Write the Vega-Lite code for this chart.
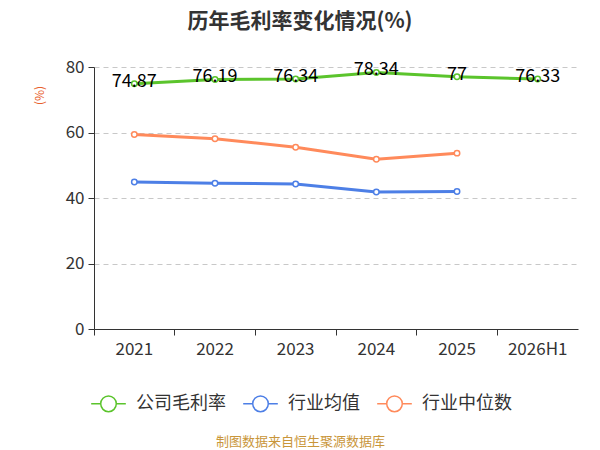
{
  "$schema": "https://vega.github.io/schema/vega-lite/v6.json",
  "description": "历年毛利率变化情况",
  "autosize": "none",
  "width": 484,
  "height": 262,
  "padding": {"left": 94, "top": 67, "right": 22, "bottom": 121},
  "background": "white",
  "config": {
    "font": "Noto Sans CJK SC",
    "view": {"stroke": null}
  },
  "title": {
    "text": "历年毛利率变化情况(%)",
    "fontSize": 21,
    "fontWeight": "bold",
    "color": "#333333",
    "anchor": "middle",
    "dx": -36,
    "offset": 26
  },
  "data": {
    "values": [
      {"year": "2021", "series": "公司毛利率", "value": 74.87},
      {"year": "2022", "series": "公司毛利率", "value": 76.19},
      {"year": "2023", "series": "公司毛利率", "value": 76.34},
      {"year": "2024", "series": "公司毛利率", "value": 78.34},
      {"year": "2025", "series": "公司毛利率", "value": 77},
      {"year": "2026H1", "series": "公司毛利率", "value": 76.33},
      {"year": "2021", "series": "行业均值", "value": 44.9},
      {"year": "2022", "series": "行业均值", "value": 44.5},
      {"year": "2023", "series": "行业均值", "value": 44.3},
      {"year": "2024", "series": "行业均值", "value": 41.8},
      {"year": "2025", "series": "行业均值", "value": 42.0},
      {"year": "2021", "series": "行业中位数", "value": 59.4},
      {"year": "2022", "series": "行业中位数", "value": 58.1},
      {"year": "2023", "series": "行业中位数", "value": 55.5},
      {"year": "2024", "series": "行业中位数", "value": 51.8},
      {"year": "2025", "series": "行业中位数", "value": 53.7}
    ]
  },
  "encoding": {
    "x": {
      "field": "year",
      "type": "nominal",
      "sort": null,
      "scale": {"type": "band", "paddingInner": 0, "paddingOuter": 0},
      "axis": {
        "title": "制图数据来自恒生聚源数据库",
        "titleColor": "#c9963a",
        "titleFontSize": 13,
        "titleFontWeight": "normal",
        "titleBaseline": "middle",
        "titleX": 206,
        "titleY": 112,
        "labelAngle": 0,
        "labelFontSize": 17,
        "labelColor": "#333333",
        "labelPadding": 6,
        "bandPosition": 0,
        "domainColor": "#333333",
        "tickColor": "#333333",
        "tickSize": 6,
        "grid": false
      }
    },
    "y": {
      "field": "value",
      "type": "quantitative",
      "scale": {"domain": [0, 80]},
      "axis": {
        "title": "(%)",
        "titleColor": "#e8602c",
        "titleFontSize": 12,
        "titleFontWeight": "normal",
        "titleX": -48,
        "titleY": 28,
        "titleAngle": -90,
        "values": [0, 20, 40, 60, 80],
        "labelFontSize": 17,
        "labelColor": "#333333",
        "labelPadding": 4,
        "domain": true,
        "domainColor": "#333333",
        "tickColor": "#333333",
        "tickSize": 6,
        "grid": true,
        "gridColor": "#c8c8c8",
        "gridDash": [5, 4]
      }
    },
    "color": {
      "field": "series",
      "type": "nominal",
      "sort": ["公司毛利率", "行业均值", "行业中位数"],
      "scale": {
        "domain": ["公司毛利率", "行业均值", "行业中位数"],
        "range": ["#5bc42c", "#4d7fe6", "#ff8a5b"]
      },
      "legend": {
        "title": null,
        "orient": "none",
        "direction": "horizontal",
        "legendX": -4,
        "legendY": 318,
        "labelFontSize": 18,
        "labelColor": "#333333",
        "symbolType": "M-1,0L-0.45,0M0.45,0L1,0M0.45,0A0.45,0.45,0,1,1,-0.45,0A0.45,0.45,0,1,1,0.45,0",
        "symbolSize": 1200,
        "symbolStrokeWidth": 1.5,
        "symbolFillColor": "white",
        "columnPadding": 14,
        "labelOffset": 9
      }
    }
  },
  "layer": [
    {
      "mark": {"type": "line", "strokeWidth": 3}
    },
    {
      "mark": {"type": "point", "shape": "circle", "filled": false, "fill": "white", "fillOpacity": 1, "size": 30, "strokeWidth": 1.5, "opacity": 1}
    },
    {
      "transform": [{"filter": "datum.series === '公司毛利率'"}],
      "mark": {"type": "text", "fontSize": 18, "color": "#000000", "dy": -2},
      "encoding": {
        "text": {"field": "value", "type": "quantitative"},
        "color": {"value": "#000000"}
      }
    }
  ]
}
